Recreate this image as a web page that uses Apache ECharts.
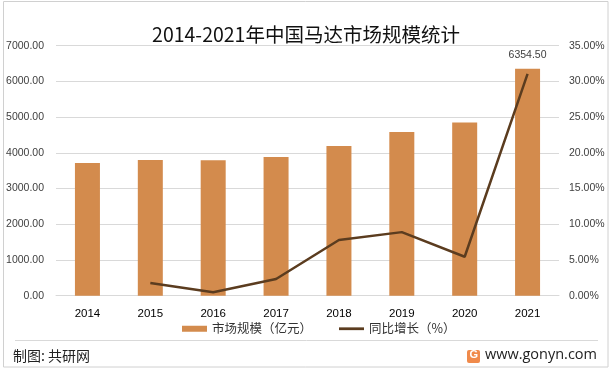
<!DOCTYPE html>
<html><head><meta charset="utf-8">
<script src="https://cdn.jsdelivr.net/npm/echarts@6/dist/echarts.min.js"></script>
<style>html,body{margin:0;padding:0;background:#fff}#c{width:612px;height:370px}</style>
</head><body><div id="c"></div>
<script>
var years = ['2014','2015','2016','2017','2018','2019','2020','2021'];
var marketSize = [3717, 3800, 3795, 3885, 4193, 4585, 4849, 6354.5];
var growth = [null, 1.78, 0.47, 2.34, 7.8, 8.9, 5.45, 31.05];
var leftTicks = {min: 0, max: 7000, interval: 1000};
var rightTicks = {min: 0, max: 35, interval: 5};

var chart = echarts.init(document.getElementById('c'), null, {renderer: 'canvas'});
var numFont = 'Liberation Sans, Arial, sans-serif';
var cjkFont = '"Noto Sans CJK SC", sans-serif';
chart.setOption({
  animation: false,
  title: {
    text: '2014-2021年中国马达市场规模统计',
    left: 'center', top: 20,
    textStyle: {fontFamily: cjkFont, fontSize: 19.5, fontWeight: 'normal', color: '#111'}
  },
  grid: {left: 56, right: 53, top: 45.7, bottom: 74.3, containLabel: false},
  legend: {
    bottom: 30, left: 177, itemGap: 27, itemWidth: 25, itemHeight: 6,
    textStyle: {fontFamily: cjkFont, fontSize: 12.5, color: '#333'},
    data: [
      {name: '市场规模（亿元）', icon: 'rect'},
      {name: '同比增长（%）', icon: 'path://M0,0 L27,0 L27,3 L0,3 Z', itemStyle: {color: '#5B3C1F'}}
    ]
  },
  xAxis: {
    type: 'category', data: years,
    axisLine: {lineStyle: {color: '#d9d9d9'}},
    axisTick: {show: false},
    axisLabel: {fontFamily: numFont, fontSize: 11.5, color: '#000', margin: 12}
  },
  yAxis: [
    {type: 'value', min: leftTicks.min, max: leftTicks.max, interval: leftTicks.interval,
     axisLabel: {fontFamily: numFont, fontSize: 10.5, color: '#404040', margin: 12,
       formatter: function(v){return v.toFixed(2);}},
     splitLine: {lineStyle: {color: '#d9d9d9'}}, axisLine: {show: false}, axisTick: {show: false}},
    {type: 'value', min: rightTicks.min, max: rightTicks.max, interval: rightTicks.interval,
     axisLabel: {fontFamily: numFont, fontSize: 10.5, color: '#404040', margin: 10,
       formatter: function(v){return v.toFixed(2) + '%';}},
     splitLine: {show: false}, axisLine: {show: false}, axisTick: {show: false}}
  ],
  series: [
    {name: '市场规模（亿元）', type: 'bar', data: marketSize, barWidth: 25,
     itemStyle: {color: '#D38B4D'},
     label: {show: true, position: 'top', distance: 8, fontFamily: numFont, fontSize: 10.5, color: '#404040',
       formatter: function(p){return p.dataIndex === marketSize.length - 1 ? p.value.toFixed(2) : '';}}},
    {name: '同比增长（%）', type: 'line', yAxisIndex: 1, data: growth, showSymbol: false,
     symbol: 'none', lineStyle: {color: '#5B3C1F', width: 2.5}, itemStyle: {color: '#5B3C1F'}}
  ],
  graphic: [
    {type: 'rect', shape: {x: 3.5, y: 1.5, width: 604.5, height: 365.5},
     style: {fill: 'none', stroke: '#d0d0d0', lineWidth: 1}, silent: true},
    {type: 'line', shape: {x1: 15, y1: 340.5, x2: 598, y2: 340.5},
     style: {stroke: '#d9d9d9', lineWidth: 1}},
    {type: 'text', left: 13, top: 349,
     style: {text: '制图: 共研网', font: '14px "Noto Sans CJK SC", sans-serif', fill: '#222'}},
    {type: 'rect', shape: {x: 467, y: 350, width: 13, height: 13, r: 2}, style: {fill: '#F08A4B'}},
    {type: 'text', left: 469.5, top: 349.5,
     style: {text: 'G', font: 'bold 11px Liberation Sans, sans-serif', fill: '#fff'}},
    {type: 'text', right: 15, top: 347,
     style: {text: 'www.gonyn.com', font: '14.5px "Open Sans", sans-serif', fill: '#222', textAlign: 'right'}}
  ]
});
</script></body></html>
